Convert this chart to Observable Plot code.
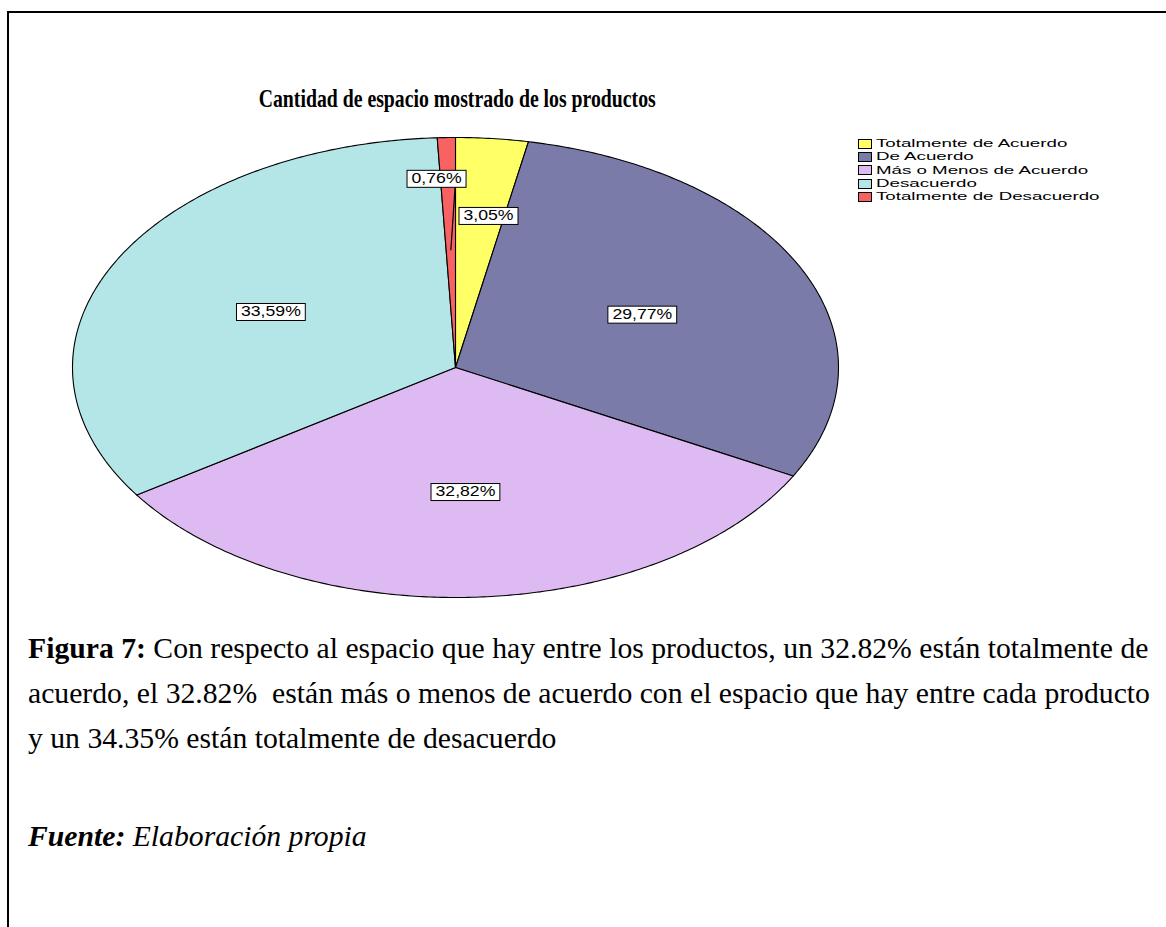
<!DOCTYPE html>
<html><head><meta charset="utf-8">
<script src="https://cdn.jsdelivr.net/npm/d3@7"></script>
<script src="https://cdn.jsdelivr.net/npm/@observablehq/plot@0.6"></script>
<style>
html,body{margin:0;padding:0;background:#fff;}
body{width:1166px;height:927px;overflow:hidden;position:relative;font-family:"Liberation Serif","Times New Roman",serif;color:#000;}
#frame{position:absolute;left:7px;top:11px;width:1200px;height:950px;border-top:2px solid #000;border-left:2px solid #000;}
#chart{position:absolute;left:0;top:0;}
#title{position:absolute;left:0;top:84px;width:914px;height:29px;overflow:hidden;text-align:center;white-space:nowrap;}
#title span{display:inline-block;font-weight:bold;font-size:26px;line-height:30px;transform:scaleX(0.76);transform-origin:center;}
#legend{position:absolute;left:858px;top:137px;font-family:"Liberation Sans",Arial,sans-serif;font-size:11px;}
.row{height:13.3px;display:flex;align-items:center;white-space:nowrap;}
.sw{width:12px;height:8px;border:1px solid #000;margin-right:4px;flex:none;}
.lt{display:inline-block;transform:scaleX(1.7);transform-origin:left center;line-height:11px;}
#caption{position:absolute;left:28px;top:626px;font-size:29.7px;line-height:45px;white-space:nowrap;}
#source{position:absolute;left:28px;top:814px;font-size:29.7px;line-height:45px;font-style:italic;white-space:nowrap;}
</style>
</head><body>
<div id="frame"></div>
<div id="chart"></div>
<div id="title"><span>Cantidad de espacio mostrado de los productos</span></div>
<div id="legend"></div>
<div id="caption"><b>Figura 7:</b> Con respecto al espacio que hay entre los productos, un 32.82% están totalmente de<br>acuerdo, el 32.82% &nbsp;están más o menos de acuerdo con el espacio que hay entre cada producto<br>y un 34.35% están totalmente de desacuerdo</div>
<div id="source"><b>Fuente:</b> Elaboración propia</div>
<script>
const categories = ["Totalmente de Acuerdo","De Acuerdo","Más o Menos de Acuerdo","Desacuerdo","Totalmente de Desacuerdo"];
const percents = [3.05, 29.77, 32.82, 33.59, 0.76];
const labels = ["3,05%","29,77%","32,82%","33,59%","0,76%"];
const colors = ["#FFFF66","#7B7BA9","#DEBAF2","#B4E6E8","#F96262"];

// slice geometry from data (parametric ellipse, clockwise from 12 o'clock)
const total = d3.sum(percents);
let cum = 0;
const slices = percents.map((p, i) => {
  const a0 = cum / total * 2 * Math.PI;
  cum += p;
  const a1 = cum / total * 2 * Math.PI;
  return {cat: categories[i], label: labels[i], a0, a1, mid: (a0 + a1) / 2};
});
const pts = [];
for (const s of slices) {
  pts.push({cat: s.cat, x: 0, y: 0});
  const n = Math.max(4, Math.ceil((s.a1 - s.a0) / 0.01));
  for (let k = 0; k <= n; k++) {
    const a = s.a0 + (s.a1 - s.a0) * k / n;
    pts.push({cat: s.cat, x: Math.sin(a), y: Math.cos(a)});
  }
  pts.push({cat: s.cat, x: 0, y: 0});
}
// label placement: 0.54 of radius along mid angle; small slices nudged outward
const nudge = {"3,05%": [0.0345, 0.1235], "0,76%": [-0.0366, 0.2826]};
const labelData = slices.map(s => {
  const ax = 0.54 * Math.sin(s.mid), ay = 0.54 * Math.cos(s.mid);
  const n = nudge[s.label] || [0, 0];
  return {label: s.label, x: ax + n[0], y: ay + n[1], ax: 0.51 * Math.sin(s.mid), ay: 0.51 * Math.cos(s.mid), leader: s.label === "0,76%"};
});
const leaders = labelData.filter(d => d.leader);

const plot = Plot.plot({
  width: 1166,
  height: 620,
  style: {background: "transparent", overflow: "visible"},
  x: {domain: [-1, 1], range: [72, 838], axis: null},
  y: {domain: [-1, 1], range: [597, 137], axis: null},
  color: {domain: categories, range: colors},
  marks: [
    Plot.line(pts, {x: "x", y: "y", z: "cat", fill: "cat", stroke: "#000", strokeWidth: 1.1, curve: "linear", strokeLinejoin: "round"}),
    Plot.link(leaders, {x1: d => d.x + 0.05, y1: "y", x2: "ax", y2: "ay", stroke: "#000", strokeWidth: 1.2}),
    Plot.text(labelData, {x: "x", y: "y", text: "label", fontSize: 14, fontFamily: "Liberation Sans, Arial, sans-serif", fill: "#000"})
  ]
});
document.getElementById("chart").appendChild(plot);

// white boxed labels, horizontally stretched like the source graphic
const textGroup = plot.querySelector('g[aria-label="text"]');
if (textGroup) {
  textGroup.querySelectorAll("text").forEach(t => {
    const w = t.getBBox().width;
    t.setAttribute("textLength", w * 1.26);
    t.setAttribute("lengthAdjust", "spacingAndGlyphs");
    const b = t.getBBox();
    const r = document.createElementNS("http://www.w3.org/2000/svg", "rect");
    r.setAttribute("x", b.x - 4.5);
    r.setAttribute("y", b.y + 0.5);
    r.setAttribute("width", b.width + 9);
    r.setAttribute("height", b.height + 1);
    r.setAttribute("fill", "#fff");
    r.setAttribute("stroke", "#000");
    r.setAttribute("stroke-width", "1");
    if (t.getAttribute("transform")) r.setAttribute("transform", t.getAttribute("transform"));
    t.parentNode.insertBefore(r, t);
  });
}

// legend
const legend = document.getElementById("legend");
categories.forEach((c, i) => {
  const row = document.createElement("div");
  row.className = "row";
  row.innerHTML = `<span class="sw" style="background:${colors[i]}"></span><span class="lt">${c}</span>`;
  legend.appendChild(row);
});
</script>
</body></html>
